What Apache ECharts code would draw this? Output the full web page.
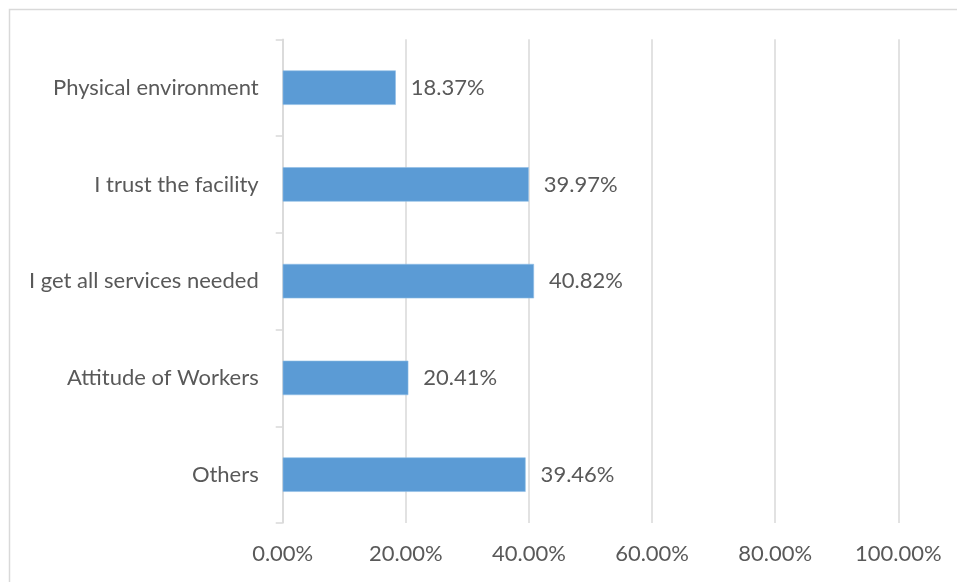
<!DOCTYPE html>
<html>
<head>
<meta charset="utf-8">
<style>
  html, body { margin: 0; padding: 0; background: #ffffff; }
  #chart { width: 957px; height: 582px; }
</style>
<script src="https://cdn.jsdelivr.net/npm/echarts@6/dist/echarts.min.js"></script>
</head>
<body>
<div id="chart"></div>
<script>
// Reasons given, listed bottom-to-top as the category axis draws them
const categories = ['Others', 'Attitude of Workers', 'I get all services needed', 'I trust the facility', 'Physical environment'];
const shares = [39.46, 20.41, 40.82, 39.97, 18.37];
const axisTicks = [0, 20, 40, 60, 80, 100];

const FONT = 'Lato, "Open Sans", sans-serif';
const TEXT = '#595959';
const LINE = '#d9d9d9';

const chart = echarts.init(document.getElementById('chart'), null, { renderer: 'canvas' });

chart.setOption({
  animation: false,
  backgroundColor: '#ffffff',
  graphic: [{
    type: 'rect',
    shape: { x: 9.5, y: 9.5, width: 1000, height: 1000 },
    style: { fill: 'none', stroke: LINE, lineWidth: 1.5 },
    silent: true
  }],
  grid: { left: 282.7, right: 58.7, top: 39.3, bottom: 59 },
  xAxis: {
    type: 'value',
    min: axisTicks[0],
    max: axisTicks[axisTicks.length - 1],
    interval: axisTicks[1] - axisTicks[0],
    axisLine: { show: false },
    axisTick: { show: false },
    splitLine: { show: true, lineStyle: { color: LINE, width: 1.5 } },
    axisLabel: {
      color: TEXT,
      fontFamily: FONT,
      fontSize: 22,
      margin: 20,
      formatter: v => v.toFixed(2) + '%'
    }
  },
  yAxis: {
    type: 'category',
    data: categories,
    axisLine: { show: true, lineStyle: { color: LINE, width: 1.5 } },
    axisTick: { show: true, length: 7, lineStyle: { color: LINE, width: 1.5 } },
    axisLabel: {
      color: TEXT,
      fontFamily: FONT,
      fontSize: 22,
      margin: 24
    }
  },
  series: [{
    type: 'bar',
    data: shares,
    barWidth: '35.6%',
    itemStyle: { color: '#5b9bd5', borderColor: '#8fbde5', borderWidth: 0.6 },
    label: {
      show: true,
      position: 'right',
      distance: 15,
      color: TEXT,
      fontFamily: FONT,
      fontSize: 22,
      formatter: p => p.value.toFixed(2) + '%'
    }
  }]
});
</script>
</body>
</html>
